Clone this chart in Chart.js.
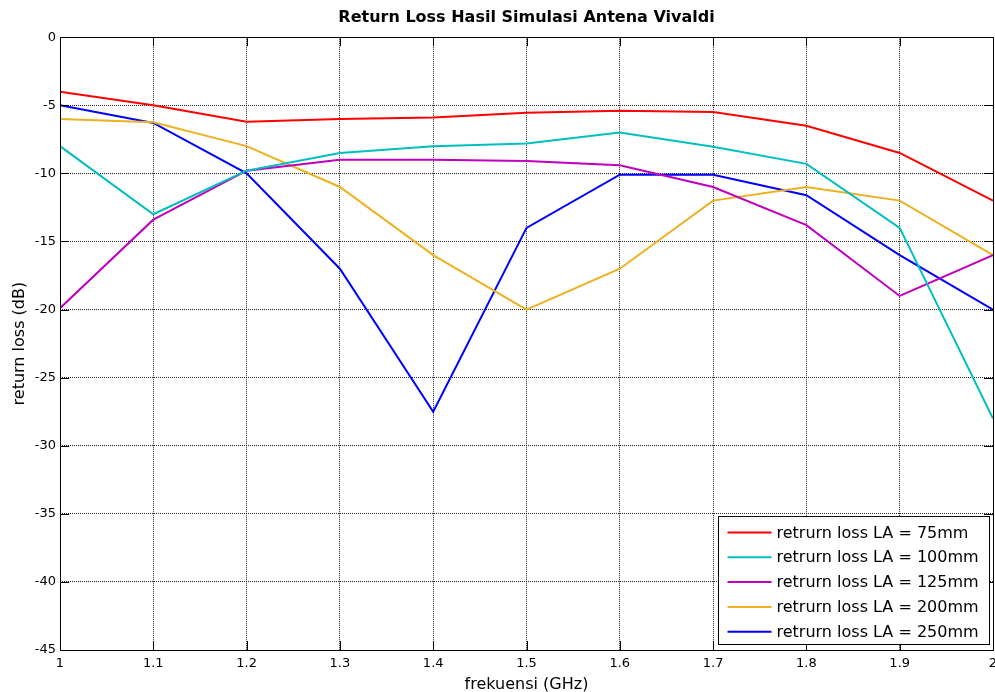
<!DOCTYPE html>
<html>
<head>
<meta charset="utf-8">
<script src="https://cdn.jsdelivr.net/npm/chart.js@4/dist/chart.umd.min.js"></script>
<style>
  html, body { margin: 0; padding: 0; background: #fff; overflow: hidden; }
  #wrap { width: 1004px; height: 692px; }
</style>
</head>
<body>
<div id="wrap"><canvas id="c" width="1004" height="692"></canvas></div>
<script>
// ---- data ----
const freqs = [1.0, 1.1, 1.2, 1.3, 1.4, 1.5, 1.6, 1.7, 1.8, 1.9, 2.0];
const la75  = [-4, -5, -6.2, -6, -5.9, -5.55, -5.4, -5.5, -6.5, -8.5, -12];
const la100 = [-8, -13, -9.8, -8.5, -8, -7.8, -7, -8.05, -9.3, -14, -28];
const la125 = [-19.9, -13.4, -9.8, -9, -9, -9.1, -9.4, -11, -13.8, -19, -16];
const la200 = [-6, -6.25, -8, -11, -16, -20, -17, -12, -11, -12, -16];
const la250 = [-5, -6.3, -10, -17, -27.5, -14, -10.1, -10.1, -11.6, -16, -20];
const seriesLabels = [
  'retrurn loss LA = 75mm',
  'retrurn loss LA = 100mm',
  'retrurn loss LA = 125mm',
  'retrurn loss LA = 200mm',
  'retrurn loss LA = 250mm'
];
const seriesColors = ['#ff0000', '#00bfbf', '#bf00bf', '#edb120', '#0000ff'];
const seriesValues = [la75, la100, la125, la200, la250];
const titleText = 'Return Loss Hasil Simulasi Antena Vivaldi';
const xTitle = 'frekuensi (GHz)';
const yTitle = 'return loss (dB)';

const FONT = '"DejaVu Sans", Verdana, sans-serif';

const datasets = seriesValues.map((vals, i) => ({
  label: seriesLabels[i],
  data: freqs.map((f, j) => ({ x: f, y: vals[j] })),
  borderColor: seriesColors[i],
  backgroundColor: seriesColors[i],
  borderWidth: 2,
  pointRadius: 0,
  tension: 0,
  fill: false
}));

// frame + inner tick marks (MATLAB style)
const framePlugin = {
  id: 'frame',
  afterDatasetsDraw(chart) {
    const { ctx, chartArea: a, scales } = chart;
    ctx.save();
    ctx.strokeStyle = '#000';
    ctx.lineWidth = 1;
    ctx.setLineDash([]);
    const L = 9;
    ctx.beginPath();
    scales.x.ticks.forEach(t => {
      const px = Math.round(scales.x.getPixelForValue(t.value)) + 0.5;
      ctx.moveTo(px, a.bottom); ctx.lineTo(px, a.bottom - L);
      ctx.moveTo(px, a.top); ctx.lineTo(px, a.top + L);
    });
    scales.y.ticks.forEach(t => {
      const py = Math.round(scales.y.getPixelForValue(t.value)) + 0.5;
      ctx.moveTo(a.left, py); ctx.lineTo(a.left + L, py);
      ctx.moveTo(a.right, py); ctx.lineTo(a.right - L, py);
    });
    ctx.stroke();
    ctx.strokeRect(Math.round(a.left) + 0.5, Math.round(a.top) + 0.5,
                   Math.round(a.right - a.left), Math.round(a.bottom - a.top));
    ctx.restore();
  }
};

// legend box inside plot, bottom right
const legendPlugin = {
  id: 'boxLegend',
  afterDraw(chart) {
    const { ctx } = chart;
    const boxW = 271, boxH = 128;
    const bx = 718.5, by = 516.5;
    ctx.save();
    ctx.fillStyle = '#fff';
    ctx.strokeStyle = '#000';
    ctx.lineWidth = 1;
    ctx.fillRect(bx, by, boxW, boxH);
    ctx.strokeRect(bx, by, boxW, boxH);
    ctx.font = '16px ' + FONT;
    ctx.textBaseline = 'middle';
    ctx.fillStyle = '#000';
    chart.data.datasets.forEach((ds, i) => {
      const cy = by + 16 + i * 24.8;
      ctx.strokeStyle = ds.borderColor;
      ctx.lineWidth = 2;
      ctx.beginPath();
      ctx.moveTo(bx + 9, cy);
      ctx.lineTo(bx + 53, cy);
      ctx.stroke();
      ctx.fillText(ds.label, bx + 58, cy + 1);
    });
    ctx.restore();
  }
};

new Chart(document.getElementById('c'), {
  type: 'line',
  data: { datasets },
  plugins: [framePlugin, legendPlugin],
  options: {
    responsive: false,
    animation: false,
    devicePixelRatio: 1,
    layout: { padding: { left: 0, top: 0, bottom: 0, right: 11 } },
    plugins: {
      legend: { display: false },
      tooltip: { enabled: false },
      title: {
        display: true,
        text: titleText,
        fullSize: false,
        color: '#000',
        font: { family: FONT, size: 16, weight: 'bold', lineHeight: 1.2 },
        padding: { top: 8, bottom: 10 }
      }
    },
    scales: {
      x: {
        type: 'linear',
        min: 1, max: 2,
        afterFit(s) { s.height = 42; },
        ticks: {
          stepSize: 0.1,
          padding: 6,
          color: '#000',
          maxRotation: 0,
          font: { family: FONT, size: 13 },
          callback: v => String(Math.round(v * 10) / 10)
        },
        grid: { color: '#222', lineWidth: 1, drawTicks: false },
        border: { display: false, dash: [1, 1] },
        title: {
          display: true, text: xTitle, color: '#000',
          font: { family: FONT, size: 16, lineHeight: 1.2 },
          padding: { top: 0, bottom: -2 }
        }
      },
      y: {
        type: 'linear',
        min: -45, max: 0,
        afterFit(s) { s.width = 60; },
        ticks: {
          stepSize: 5,
          padding: 4,
          color: '#000',
          font: { family: FONT, size: 13 }
        },
        grid: { color: '#222', lineWidth: 1, drawTicks: false },
        border: { display: false, dash: [1, 1] },
        title: {
          display: true, text: yTitle, color: '#000',
          font: { family: FONT, size: 16, lineHeight: 1.2 },
          padding: { top: 10, bottom: 0 }
        }
      }
    }
  }
});
</script>
</body>
</html>
